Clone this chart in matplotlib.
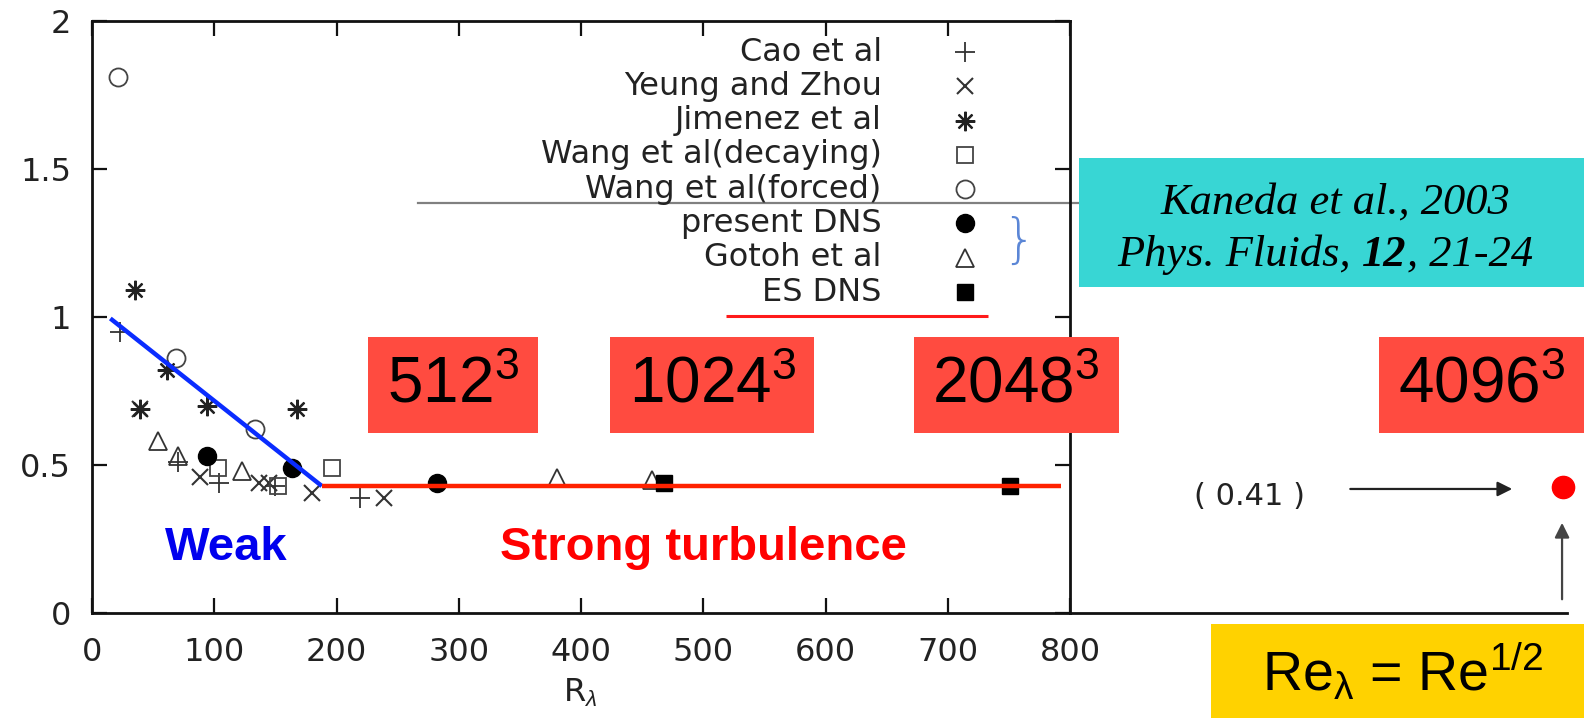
import matplotlib
matplotlib.use("Agg")
import matplotlib.pyplot as plt
from matplotlib.patches import Rectangle

plt.rcParams['mathtext.fontset'] = 'custom'
plt.rcParams['mathtext.rm'] = 'Liberation Sans'
plt.rcParams['mathtext.it'] = 'Liberation Sans:italic'

# -------------------------- Data --------------------------
cao_x = [23, 70, 104, 150, 219]
cao_y = [0.95, 0.51, 0.44, 0.43, 0.39]

yeung_x = [39, 88, 137, 145, 180, 239]
yeung_y = [0.69, 0.46, 0.44, 0.44, 0.405, 0.39]

jimenez_x = [35, 61, 39, 94, 168]
jimenez_y = [1.09, 0.82, 0.69, 0.70, 0.69]

wang_dec_x = [103, 152, 196]
wang_dec_y = [0.49, 0.43, 0.49]

wang_forced_x = [21, 69, 133]
wang_forced_y = [1.81, 0.86, 0.62]

present_x = [94, 164, 282]
present_y = [0.53, 0.49, 0.44]

gotoh_x = [54, 70, 123, 380, 458]
gotoh_y = [0.58, 0.53, 0.48, 0.455, 0.45]

es_x = [468, 751]
es_y = [0.44, 0.43]

weak_x = [15, 188]
weak_y = [0.995, 0.429]
strong_x = [188, 793]
strong_y = [0.429, 0.429]

grid_labels = ["512", "1024", "2048", "4096"]
grid_box_x = [(226, 365), (424, 591), (672, 840), (1053, 1221)]

x_ticks = [0, 100, 200, 300, 400, 500, 600, 700, 800]
y_ticks = [0, 0.5, 1, 1.5, 2]

# -------------------------- Styles --------------------------
series = [
    ("Cao et al", cao_x, cao_y, dict(marker='+', ms=14, mew=1.3, color='#333333')),
    ("Yeung and Zhou", yeung_x, yeung_y, dict(marker='x', ms=12, mew=1.5, color='#333333')),
    ("Jimenez et al", jimenez_x, jimenez_y, dict(marker=(8, 2, 0), ms=14, mew=1.6, color='#222222')),
    ("Wang et al(decaying)", wang_dec_x, wang_dec_y, dict(marker='s', ms=12, mew=1.3, mfc='none', color='#444444')),
    ("Wang et al(forced)", wang_forced_x, wang_forced_y, dict(marker='o', ms=13, mew=1.3, mfc='none', color='#444444')),
    ("present DNS", present_x, present_y, dict(marker='o', ms=13, color='black')),
    ("Gotoh et al", gotoh_x, gotoh_y, dict(marker='^', ms=13, mew=1.3, mfc='none', color='#333333')),
    ("ES DNS", es_x, es_y, dict(marker='s', ms=11, color='black')),
]

txt_color = '#222222'

fig = plt.figure(figsize=(15.84, 7.18), dpi=100)
fig.patch.set_facecolor('white')
ax = fig.add_axes([92 / 1584, 105 / 718, 978 / 1584, 592 / 718])
ax.set_xlim(0, 800)
ax.set_ylim(0, 2)

for s in ax.spines.values():
    s.set_linewidth(2)
    s.set_color('#111111')

ax.set_xticks(x_ticks)
ax.set_yticks(y_ticks)
ax.set_xticklabels([str(t) for t in x_ticks])
ax.set_yticklabels(["0", "0.5", "1", "1.5", "2"])
ax.tick_params(direction='in', length=11, width=1.6, top=True, right=True,
               labelsize=23, labelcolor=txt_color, colors='#111111')
ax.tick_params(axis='x', pad=17)
ax.tick_params(axis='y', pad=15)
for lab in ax.get_xticklabels() + ax.get_yticklabels():
    lab.set_family('DejaVu Sans')
    lab.set_color(txt_color)

ax.text(399, -0.27, r"R$_{\lambda}$", fontsize=23, family='DejaVu Sans', color=txt_color,
        ha='center', va='center', clip_on=False)

# data points
for name, xs, ys, st in series:
    ax.plot(xs, ys, ls='none', clip_on=False, zorder=3, **st)

# legend, gnuplot style (labels right aligned, marker on the right)
for i, (name, xs, ys, st) in enumerate(series):
    y_row = 1.895 - 0.1158 * i
    ax.text(646, y_row, name, fontsize=23, family='DejaVu Sans', color=txt_color,
            ha='right', va='center')
    ax.plot([714], [y_row], ls='none', **st)

# gray line through legend, brace and red underline
ax.plot([267, 808], [1.385, 1.385], color='#808080', lw=1.6, clip_on=False, zorder=2)
ax.text(758, 1.253, "}", fontsize=38, color='#5b86d6', ha='center', va='center',
        family='DejaVu Sans', fontweight='light')
ax.plot([519, 733], [1.003, 1.003], color='#ff1a1a', lw=2.2, solid_capstyle='butt')

# weak / strong lines
ax.plot(weak_x, weak_y, color='#0a2cff', lw=3.2, solid_capstyle='butt', zorder=4)
ax.plot(strong_x, strong_y, color='#ff2200', lw=3.2, solid_capstyle='butt', zorder=4)

ax.text(110, 0.22, "Weak", fontsize=34, fontweight='bold', family='Liberation Sans',
        color='#0000ee', ha='center', va='center')
ax.text(500, 0.22, "Strong turbulence", fontsize=34, fontweight='bold', family='Liberation Sans',
        color='#ff0000', ha='center', va='center')

# extended axis beyond the frame
ax.plot([800, 1206.5], [0, 0], color='#111111', lw=2, clip_on=False, zorder=2)

# grid size boxes
for lab, (x0, x1) in zip(grid_labels, grid_box_x):
    ax.add_patch(Rectangle((x0, 0.608), x1 - x0, 0.324, facecolor='#ff4b40', edgecolor='none',
                           clip_on=False, zorder=6))
    ax.text((x0 + x1) / 2, 0.77, lab + r"$^{\mathrm{3}}$", fontsize=46, family='Liberation Sans',
            color='black', ha='center', va='center', zorder=7, clip_on=False)

# reference box
ax.add_patch(Rectangle((807.5, 1.1), 1220.4 - 807.5, 0.436, facecolor='#38d6d4', edgecolor='none',
                       clip_on=False, zorder=6))
ref_font = dict(fontsize=32, family='Liberation Serif', style='italic', zorder=7, clip_on=False)
ax.text(1017, 1.388, "Kaneda et al., 2003", ha='center', va='center', **ref_font)
t1 = ax.text(839, 1.142, "Phys. Fluids, ", ha='left', va='bottom', **ref_font)
t2 = ax.annotate("12", xy=(1, 0), xycoords=t1, ha='left', va='bottom', fontweight='bold',
                 annotation_clip=False, **ref_font)
ax.annotate(", 21-24", xy=(1, 0), xycoords=t2, ha='left', va='bottom',
            annotation_clip=False, **ref_font)

# 4096^3 estimate
ax.text(947, 0.392, "( 0.41 )", fontsize=22, family='DejaVu Sans', color=txt_color,
        ha='center', va='center', clip_on=False)
ax.annotate("", xy=(1164, 0.419), xytext=(1027, 0.419), annotation_clip=False,
            arrowprops=dict(arrowstyle='-|>', color='#222222', lw=1.6, mutation_scale=22))
ax.plot([1203.3], [0.426], marker='o', ms=16, color='#ff0000', ls='none', clip_on=False, zorder=5)
ax.annotate("", xy=(1202.5, 0.314), xytext=(1202.5, 0.037), annotation_clip=False,
            arrowprops=dict(arrowstyle='-|>', color='#444444', lw=1.6, mutation_scale=22))

# Re_lambda box
ax.add_patch(Rectangle((915.3, -0.355), 1220.4 - 915.3, 0.318, facecolor='#ffd200', edgecolor='none',
                       clip_on=False, zorder=6))
ax.text(1072, -0.2, r"Re$_{\mathrm{\lambda}}$ = Re$^{\mathrm{1/2}}$", fontsize=40,
        family='Liberation Sans', ha='center', va='center', zorder=7, clip_on=False)

fig.savefig("out.png", dpi=100)
